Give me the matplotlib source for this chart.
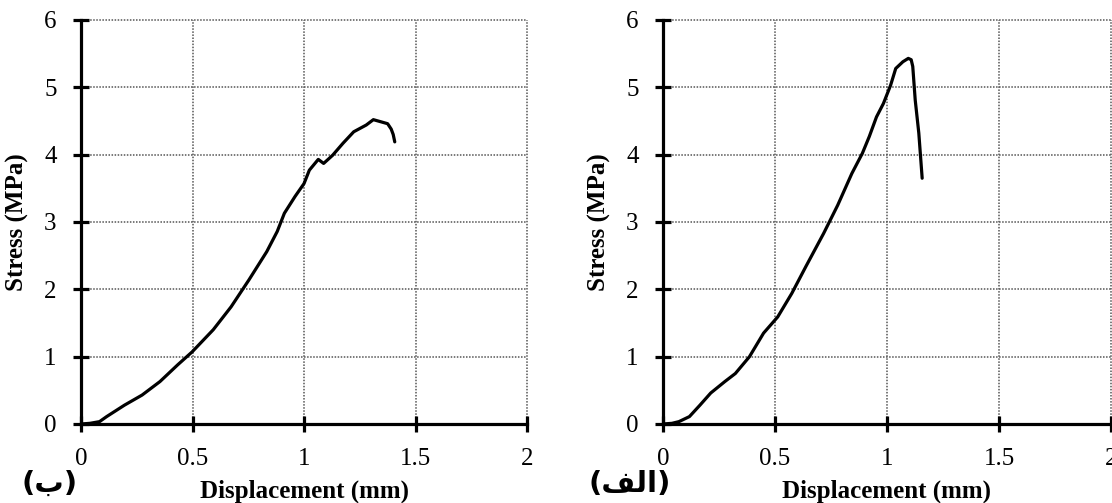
import matplotlib
matplotlib.use("Agg")
import matplotlib.pyplot as plt

# Data
disp_b = [0.0, 0.04, 0.083, 0.115, 0.195, 0.274, 0.354, 0.434, 0.498, 0.593, 0.673, 0.753,
          0.833, 0.880, 0.912, 0.960, 1.0, 1.024, 1.064, 1.088, 1.128, 1.175, 1.223,
          1.279, 1.311, 1.343, 1.375, 1.391, 1.400, 1.407]
stress_b = [0.0, 0.01, 0.035, 0.11, 0.28, 0.43, 0.63, 0.88, 1.07, 1.40, 1.74, 2.14,
            2.56, 2.86, 3.13, 3.38, 3.57, 3.77, 3.93, 3.87, 3.99, 4.17, 4.34,
            4.44, 4.52, 4.49, 4.46, 4.38, 4.30, 4.19]

disp_a = [0.0, 0.04, 0.071, 0.118, 0.165, 0.213, 0.276, 0.323, 0.386, 0.449, 0.512, 0.575,
          0.638, 0.717, 0.780, 0.843, 0.890, 0.921, 0.953, 0.984, 1.016, 1.039, 1.071,
          1.095, 1.108, 1.115, 1.126, 1.142, 1.157]
stress_a = [0.0, 0.01, 0.035, 0.11, 0.28, 0.46, 0.63, 0.75, 1.0, 1.35, 1.59, 1.94,
            2.34, 2.83, 3.25, 3.72, 4.02, 4.27, 4.56, 4.76, 5.03, 5.28, 5.38,
            5.43, 5.41, 5.31, 4.81, 4.32, 3.65]

x_ticks = [0, 0.5, 1, 1.5, 2]
x_tick_labels = ["0", "0.5", "1", "1.5", "2"]
y_ticks = [0, 1, 2, 3, 4, 5, 6]
x_label = "Displacement (mm)"
y_label = "Stress (MPa)"
panel_labels = ["(\uFE8F)", "(\uFED2\uFEDF\uFE8D)"]  # (ب) , (الف) shaped for LTR display

plt.rcParams['font.family'] = ['Liberation Serif', 'DejaVu Serif']

fig = plt.figure(figsize=(11.12, 5.03), dpi=100)
fig.patch.set_facecolor('white')

axes_rects = [
    [81 / 1112, 79 / 503, 446 / 1112, 404 / 503],
    [663 / 1112, 79 / 503, 448 / 1112, 404 / 503],
]
series = [(disp_b, stress_b), (disp_a, stress_a)]
panel_label_x = [50 / 1112, 630 / 1112]

for rect, (xs, ys), plab, plx in zip(axes_rects, series, panel_labels, panel_label_x):
    ax = fig.add_axes(rect)
    ax.plot(xs, ys, color='black', lw=2.3, solid_capstyle='round', solid_joinstyle='round',
            zorder=3)
    ax.set_xlim(0, 2)
    ax.set_ylim(0, 6)
    ax.set_xticks(x_ticks)
    ax.set_xticklabels(x_tick_labels)
    ax.set_yticks(y_ticks)
    ax.grid(True, color='#555555', linestyle=(0, (1, 1)), linewidth=1.1, zorder=1)
    for g in ax.get_xgridlines() + ax.get_ygridlines():
        g.set_clip_on(False)
    for s in ['top', 'right']:
        ax.spines[s].set_visible(False)
    for s in ['left', 'bottom']:
        ax.spines[s].set_linewidth(2.3)
        ax.spines[s].set_color('black')
        ax.spines[s].set_zorder(4)
    ax.tick_params(axis='both', direction='inout', length=11, width=2.3,
                   labelsize=18, colors='black')
    ax.tick_params(axis='x', pad=12)
    ax.tick_params(axis='y', pad=12)
    ax.set_xlabel(x_label, fontsize=18, fontweight='bold', labelpad=7)
    ax.set_ylabel(y_label, fontsize=18, fontweight='bold', labelpad=11)
    fig.text(plx, 19 / 503, plab, fontsize=21, fontweight='bold',
             family=['DejaVu Sans'], ha='center', va='center')

fig.savefig('out.png', dpi=100, facecolor='white')
